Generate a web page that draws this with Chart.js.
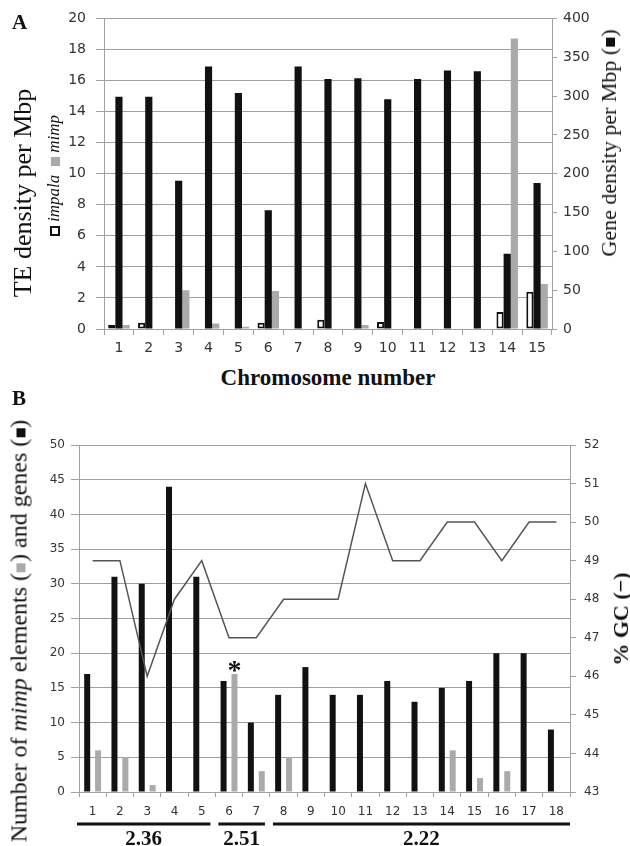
<!DOCTYPE html>
<html>
<head>
<meta charset="utf-8">
<script src="https://cdn.jsdelivr.net/npm/chart.js@4/dist/chart.umd.min.js"></script>
<style>
    body { margin: 0; background: #fff; }
    #page { position: relative; width: 630px; height: 846px; overflow: hidden; }
    .box { position: absolute; }
    .t { position: absolute; white-space: nowrap; font-family: "Liberation Serif", "DejaVu Serif", serif; color: #111; }
    .rot { transform: translate(-50%, -50%) rotate(-90deg); }
    .sq { display: inline-block; width: 9px; height: 9px; vertical-align: middle; margin: 0 3px; }
</style>
</head>
<body>
<div id="page">
    <div class="box" style="left:0;top:0;width:630px;height:362px;"><canvas id="chartA"></canvas></div>
    <div class="box" style="left:0;top:400px;width:630px;height:446px;"><canvas id="chartB"></canvas></div>

    <div class="t" style="left:12px;top:10px;font-size:21px;font-weight:bold;">A</div>
    <div class="t rot" style="left:23px;top:193px;font-size:26px;">TE density per Mbp</div>
    <div class="t rot" style="left:54px;top:177px;font-size:17px;font-style:italic;">
        <span class="sq" style="border:2px solid #111;width:6px;height:6px;background:#fff;margin-right:4px;"></span>impala<span class="sq" style="background:#aaa;margin-left:9px;margin-right:4px;"></span>mimp</div>
    <div class="t rot" style="left:609px;top:143px;font-size:22px;">Gene density per Mbp (<span class="sq" style="background:#111;margin:0 1px;"></span>)</div>
    <div class="t" style="left:328px;top:378px;font-size:23px;font-weight:bold;transform:translate(-50%,-50%);">Chromosome number</div>

    <div class="t" style="left:12px;top:386px;font-size:21px;font-weight:bold;">B</div>
    <div class="t rot" style="left:19px;top:631px;font-size:24px;">Number of <i>mimp</i> elements (<span class="sq" style="background:#aaa;margin:0 1px;"></span>) and genes (<span class="sq" style="background:#111;margin:0 1px;"></span>)</div>
    <div class="t rot" style="left:621px;top:619px;font-size:22px;font-weight:bold;">% GC (&minus;)</div>
</div>

<script>
// panel A
const chromA = ['1', '2', '3', '4', '5', '6', '7', '8', '9', '10', '11', '12', '13', '14', '15'];
const impalaA = [0.25, 0.4, null, null, null, 0.4, null, 0.6, null, 0.45, null, null, null, 1.1, 2.4];
const genesA = [299, 299, 191, 338, 304, 153, 338, 322, 323, 296, 322, 333, 332, 97, 188];
const mimpA = [0.25, null, 2.5, 0.35, 0.15, 2.45, null, null, 0.25, null, null, null, null, 18.7, 2.9];

// panel B
const chromB = ['1', '2', '3', '4', '5', '6', '7', '8', '9', '10', '11', '12', '13', '14', '15', '16', '17', '18'];
const genesB = [17, 31, 30, 44, 31, 16, 10, 14, 18, 14, 14, 16, 13, 15, 16, 20, 20, 9];
const mimpB = [6, 5, 1, 0, 0, 17, 3, 5, 0, 0, 0, 0, 0, 6, 2, 3, 0, 0];
const gcB = [49, 49, 46, 48, 49, 47, 47, 48, 48, 48, 51, 49, 49, 50, 50, 49, 50, 50];
const groupsB = [
    { label: '2.36', from: 0, to: 4 },
    { label: '2.51', from: 5, to: 6 },
    { label: '2.22', from: 7, to: 17 }
];
const starIndex = 5;

const tickFont = { family: 'DejaVu Sans', size: 14 };
const tickColor = '#333';
const gridColor = '#a0a0a0';

function fixWidth(w) {
    return function (scale) { scale.width = w; };
}
function fixHeight(h) {
    return function (scale) { scale.height = h; };
}

new Chart(document.getElementById('chartA'), {
    type: 'bar',
    data: {
        labels: chromA,
        datasets: [
            { label: 'impala', data: impalaA, yAxisID: 'y', backgroundColor: '#fff', borderColor: '#111', borderWidth: 2, borderSkipped: false },
            { label: 'genes', data: genesA, yAxisID: 'y1', backgroundColor: '#111', borderWidth: 0 },
            { label: 'mimp', data: mimpA, yAxisID: 'y', backgroundColor: '#aaa', borderWidth: 0 }
        ]
    },
    options: {
        responsive: true,
        maintainAspectRatio: false,
        animation: false,
        layout: { padding: { top: 17, bottom: 0, left: 0, right: 0 } },
        categoryPercentage: 0.72,
        barPercentage: 1.0,
        plugins: { legend: { display: false }, tooltip: { enabled: false } },
        scales: {
            x: {
                afterFit: fixHeight(33),
                grid: { drawOnChartArea: false, tickLength: 6, color: gridColor },
                border: { color: gridColor },
                ticks: { font: tickFont, color: tickColor, padding: 5, maxRotation: 0 }
            },
            y: {
                position: 'left',
                min: 0, max: 20,
                afterFit: fixWidth(104),
                grid: { color: gridColor, tickLength: 8 },
                border: { color: gridColor },
                ticks: { stepSize: 2, font: tickFont, color: tickColor, padding: 10 }
            },
            y1: {
                position: 'right',
                min: 0, max: 400,
                afterFit: fixWidth(78),
                grid: { drawOnChartArea: false, tickLength: 5, color: gridColor },
                border: { color: gridColor },
                ticks: { stepSize: 50, font: tickFont, color: tickColor, padding: 6 }
            }
        }
    }
});

// star over one mimp bar and group lines under the axis
const extrasB = {
    id: 'extrasB',
    afterDraw(chart) {
        const ctx = chart.ctx;
        const bar = chart.getDatasetMeta(2).data[starIndex];
        ctx.save();
        ctx.fillStyle = '#111';
        ctx.textAlign = 'center';
        ctx.textBaseline = 'bottom';
        ctx.font = 'bold 28px "Liberation Serif"';
        ctx.fillText('*', bar.x, bar.y + 12);

        const x = chart.scales.x;
        const half = (x.getPixelForValue(1) - x.getPixelForValue(0)) / 2;
        const lineY = chart.chartArea.bottom + 32;
        groupsB.forEach(function (g) {
            const x0 = x.getPixelForValue(g.from) - half - 2 + (g.from > 0 ? 5 : 0);
            const x1 = x.getPixelForValue(g.to) + half - (g.to < chromB.length - 1 ? 5 : 0);
            ctx.fillRect(x0, lineY - 1.5, x1 - x0, 3);
            ctx.font = 'bold 21px "Liberation Serif"';
            ctx.textBaseline = 'middle';
            ctx.fillText(g.label, (x0 + x1) / 2, lineY + 16);
        });
        ctx.restore();
    }
};

const tickFontB = { family: 'DejaVu Sans', size: 12 };

new Chart(document.getElementById('chartB'), {
    type: 'bar',
    data: {
        labels: chromB,
        datasets: [
            { type: 'line', label: 'GC', data: gcB, yAxisID: 'y1', borderColor: '#555', borderWidth: 1.5, pointRadius: 0, tension: 0, fill: false },
            { label: 'genes', data: genesB, yAxisID: 'y', backgroundColor: '#111', borderWidth: 0, order: 1 },
            { label: 'mimp', data: mimpB, yAxisID: 'y', backgroundColor: '#aaa', borderWidth: 0, order: 1 }
        ]
    },
    options: {
        responsive: true,
        maintainAspectRatio: false,
        animation: false,
        layout: { padding: { top: 45, bottom: 26, left: 0, right: 0 } },
        categoryPercentage: 0.8,
        barPercentage: 0.55,
        plugins: { legend: { display: false }, tooltip: { enabled: false } },
        scales: {
            x: {
                afterFit: fixHeight(28),
                grid: { drawOnChartArea: false, tickLength: 5, color: gridColor },
                border: { color: gridColor },
                ticks: { font: tickFontB, color: tickColor, padding: 8, maxRotation: 0 }
            },
            y: {
                position: 'left',
                min: 0, max: 50,
                afterFit: fixWidth(79),
                grid: { color: gridColor, tickLength: 8 },
                border: { color: gridColor },
                ticks: { stepSize: 5, font: tickFontB, color: tickColor, padding: 6 }
            },
            y1: {
                position: 'right',
                min: 43, max: 52,
                afterFit: fixWidth(60),
                grid: { drawOnChartArea: false, tickLength: 6, color: gridColor },
                border: { color: gridColor },
                ticks: { stepSize: 1, font: tickFontB, color: tickColor, padding: 8 }
            }
        }
    },
    plugins: [extrasB]
});
</script>
</body>
</html>
